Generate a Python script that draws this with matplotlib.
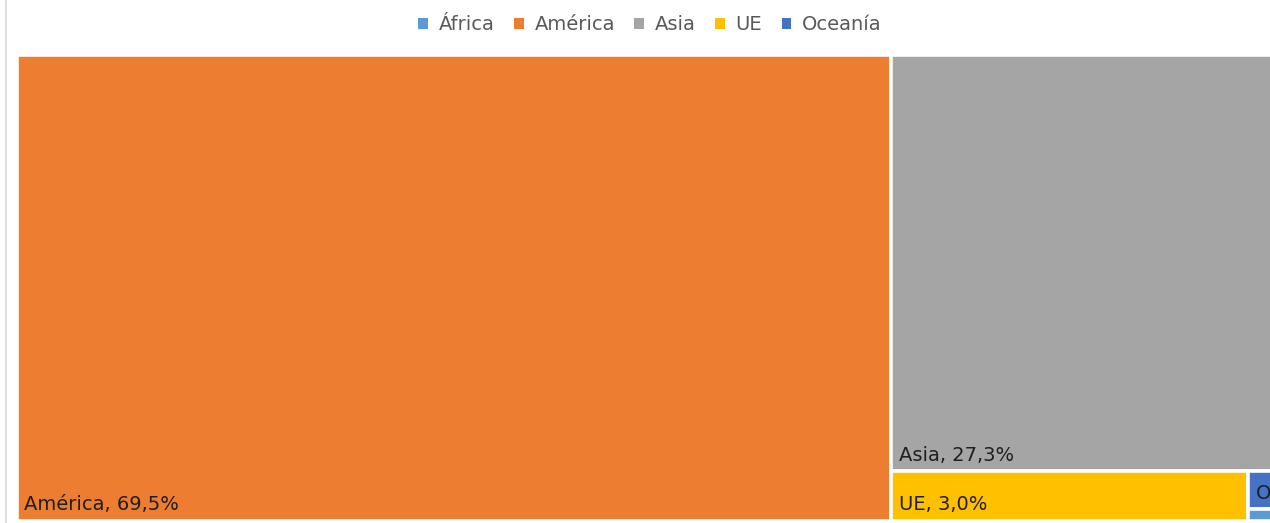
import matplotlib
matplotlib.use("Agg")
import matplotlib.pyplot as plt
from matplotlib.patches import Rectangle
from matplotlib.lines import Line2D

regions = ["África", "América", "Asia", "UE", "Oceanía"]
shares = [0.05, 69.5, 27.3, 3.0, 0.17]
labels = ["África, 0,1%", "América, 69,5%", "Asia, 27,3%", "UE, 3,0%", "Oceanía, 0,2%"]
colors = ["#5B9BD5", "#ED7D31", "#A5A5A5", "#FFC000", "#4472C4"]

plt.rcParams['font.family'] = ['DejaVu Sans']

# plot area in pixels (1 data unit = 1 px)
W, H = 1258, 466


def worst(row, side):
    s = sum(row)
    return max(max(side * side * r / (s * s), s * s / (side * side * r)) for r in row)


def squarify(vals, x, y, w, h):
    # vals already scaled so that sum(vals) == w*h
    rects = []
    vals = list(vals)
    while vals:
        side = min(w, h)
        row = [vals.pop(0)]
        while vals and worst(row + [vals[0]], side) <= worst(row, side):
            row.append(vals.pop(0))
        s = sum(row)
        if w >= h:
            cw = s / h
            yy = y
            for r in row:
                rects.append((x, yy, cw, r / cw))
                yy += r / cw
            x += cw
            w -= cw
        else:
            rh = s / w
            xx = x
            for r in row:
                rects.append((xx, y, r / rh, rh))
                xx += r / rh
            y += rh
            h -= rh
    return rects


order = sorted(range(len(shares)), key=lambda i: -shares[i])
total = sum(shares)
scaled = [shares[i] / total * W * H for i in order]
boxes = squarify(scaled, 0, 0, W, H)

fig = plt.figure(figsize=(12.7, 5.23), dpi=100)
ax = fig.add_axes([16.5 / 1270, 2.5 / 523, W / 1270, H / 523])
ax.set_xlim(0, W)
ax.set_ylim(H, 0)
ax.axis('off')

for i, (x, y, w, h) in zip(order, boxes):
    rect = Rectangle((x, y), w, h, facecolor=colors[i], edgecolor='white',
                     linewidth=2.6, clip_on=False)
    ax.add_patch(rect)
    if h > 20:
        t = ax.text(x + 8, y + h - 10, labels[i], fontsize=14, color='#1f1f1f',
                    ha='left', va='baseline')
        t.set_clip_path(rect)

fig.add_artist(Line2D([5.5 / 1270, 5.5 / 1270], [0, 1], color='#d9d9d9',
                      linewidth=1.2, transform=fig.transFigure))

handles = [Rectangle((0, 0), 1, 1, facecolor=c, edgecolor='none') for c in colors]
fig.legend(handles, regions, loc='center', bbox_to_anchor=(650 / 1270, 1 - 25 / 523),
           ncol=5, frameon=False, fontsize=14, labelcolor='#595959',
           handlelength=0.5, handleheight=0.5, handletextpad=0.55, columnspacing=1.0)

fig.savefig('out.png', dpi=100)
